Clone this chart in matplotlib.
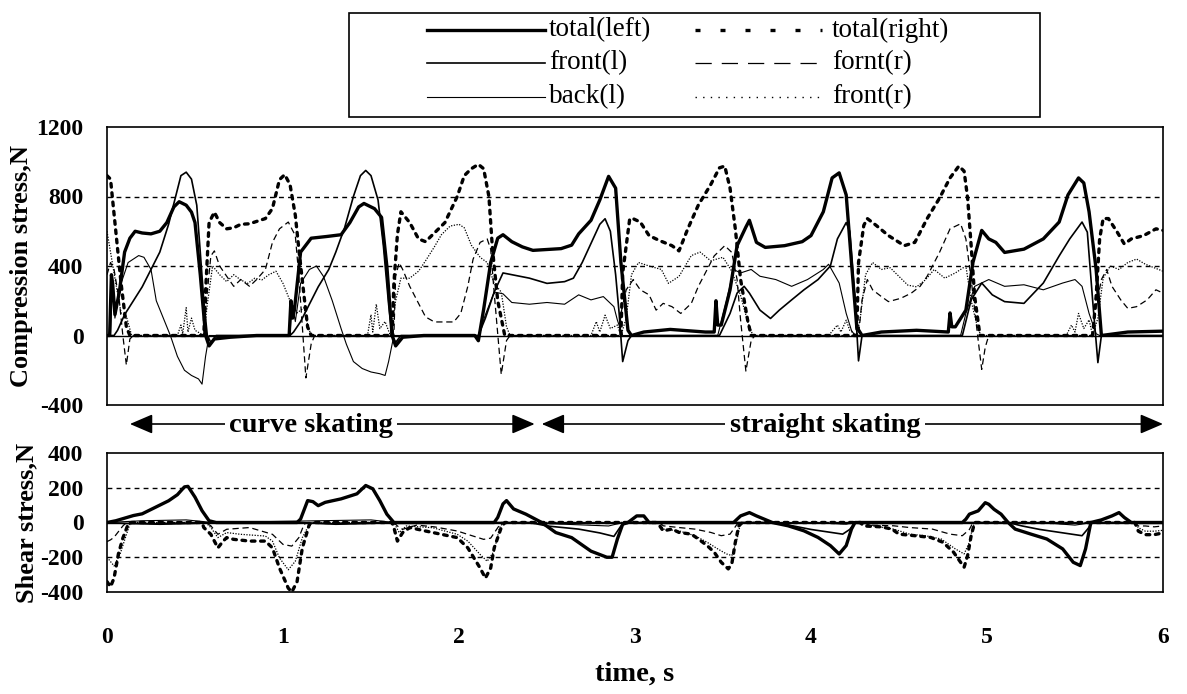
import numpy as np
import matplotlib
matplotlib.use("Agg")
import matplotlib.pyplot as plt
from matplotlib.lines import Line2D
from matplotlib.patches import Rectangle

plt.rcParams['font.family'] = ['Liberation Serif', 'DejaVu Serif']
plt.rcParams['axes.unicode_minus'] = False

# ================================================================
# DATA: (time s, force N) pairs
# ================================================================
# --- compression stress (upper panel) ---
comp_total_l = [(0, 0), (0.015, 0), (0.025, 350), (0.032, 300), (0.045, 120), (0.07, 250), (0.1, 480),
                (0.13, 560), (0.16, 600), (0.2, 590), (0.25, 585), (0.3, 600), (0.34, 650), (0.38, 740),
                (0.41, 770), (0.45, 750), (0.48, 710), (0.5, 650), (0.53, 350), (0.56, 0), (0.58, -60),
                (0.61, -20), (0.7, -10), (0.85, 0), (1.035, 0), (1.045, 200), (1.055, 100), (1.065, 150),
                (1.1, 480), (1.16, 560), (1.25, 570), (1.33, 580), (1.38, 650), (1.43, 740), (1.46, 760),
                (1.52, 730), (1.56, 680), (1.59, 400), (1.62, 0), (1.64, -60), (1.68, -10), (1.8, 0),
                (2.09, 0), (2.11, -30), (2.14, 150), (2.18, 420), (2.22, 560), (2.25, 580), (2.3, 540),
                (2.36, 510), (2.42, 490), (2.5, 495), (2.58, 500), (2.64, 520), (2.68, 585), (2.75, 663),
                (2.8, 780), (2.85, 916), (2.89, 848), (2.92, 420), (2.96, 30), (2.98, 0), (3.05, 20),
                (3.2, 35), (3.4, 20), (3.45, 20), (3.46, 200), (3.47, 60), (3.49, 60), (3.54, 263),
                (3.58, 517), (3.63, 624), (3.65, 663), (3.69, 536), (3.74, 507), (3.85, 517), (3.95, 540),
                (4.0, 575), (4.07, 712), (4.12, 907), (4.16, 936), (4.2, 809), (4.23, 420), (4.26, 49),
                (4.29, 0), (4.4, 20), (4.6, 30), (4.78, 20), (4.79, 130), (4.8, 50), (4.82, 50),
                (4.88, 146), (4.92, 420), (4.97, 605), (5.01, 556), (5.05, 536), (5.1, 478), (5.21, 497),
                (5.32, 556), (5.41, 653), (5.46, 809), (5.52, 907), (5.55, 878), (5.58, 712), (5.62, 380),
                (5.65, 0), (5.8, 20), (6.0, 25)]

comp_front_l = [(0, 0), (0.04, 0), (0.06, 30), (0.1, 120), (0.15, 200), (0.2, 280), (0.26, 400), (0.3, 480),
                (0.35, 640), (0.39, 800), (0.42, 920), (0.45, 940), (0.48, 900), (0.51, 750), (0.53, 480),
                (0.55, 200), (0.57, 0), (0.59, -40), (0.62, 0), (1.04, 0), (1.06, 20), (1.1, 80), (1.15, 180),
                (1.2, 280), (1.26, 380), (1.3, 480), (1.35, 620), (1.4, 800), (1.44, 920), (1.47, 950),
                (1.5, 920), (1.54, 780), (1.57, 520), (1.6, 180), (1.62, 0), (1.64, -40), (1.67, 0),
                (2.11, 0), (2.15, 100), (2.2, 250), (2.25, 360), (2.3, 350), (2.4, 330), (2.5, 300),
                (2.6, 310), (2.65, 330), (2.7, 420), (2.75, 530), (2.8, 640), (2.83, 672), (2.86, 600),
                (2.89, 350), (2.91, 127), (2.93, -150), (2.96, -30), (2.98, 0), (3.48, 0), (3.54, 127),
                (3.58, 244), (3.62, 283), (3.65, 244), (3.71, 146), (3.77, 98), (3.82, 146), (3.89, 205),
                (3.96, 263), (4.04, 322), (4.11, 400), (4.15, 556), (4.2, 650), (4.22, 600), (4.25, 205),
                (4.27, -146), (4.29, 0), (4.86, 0), (4.91, 205), (4.97, 302), (5.03, 234), (5.1, 195),
                (5.21, 185), (5.32, 302), (5.41, 458), (5.47, 556), (5.54, 653), (5.57, 595), (5.6, 205),
                (5.63, -156), (5.65, 0), (6.0, 0)]

comp_back_l = [(0, 0), (0.02, 0), (0.03, 330), (0.045, 100), (0.08, 300), (0.12, 420), (0.18, 460), (0.21, 450),
               (0.25, 380), (0.28, 200), (0.32, 100), (0.36, 0), (0.4, -120), (0.44, -200), (0.48, -230),
               (0.52, -250), (0.54, -280), (0.56, -120), (0.58, 0), (1.04, 0), (1.05, 200), (1.07, 80),
               (1.1, 300), (1.15, 380), (1.19, 400), (1.23, 340), (1.28, 200), (1.33, 40), (1.36, -50),
               (1.4, -150), (1.45, -190), (1.5, -210), (1.55, -220), (1.58, -230), (1.6, -150), (1.63, 0),
               (2.11, 0), (2.15, 120), (2.2, 250), (2.25, 240), (2.3, 190), (2.4, 180), (2.5, 190), (2.6, 180),
               (2.68, 234), (2.75, 205), (2.82, 224), (2.88, 166), (2.9, 88), (2.93, 0), (3.47, 0), (3.52, 200),
               (3.56, 380), (3.6, 360), (3.66, 380), (3.71, 341), (3.8, 322), (3.89, 283), (3.98, 322),
               (4.07, 380), (4.1, 410), (4.16, 302), (4.2, 127), (4.23, 29), (4.25, 0), (4.85, 0), (4.88, 127),
               (4.93, 283), (5.01, 322), (5.1, 283), (5.21, 292), (5.32, 263), (5.43, 302), (5.5, 322),
               (5.54, 283), (5.58, 127), (5.62, 10), (5.64, 0), (6.0, 0)]

comp_total_r = [(0, 920), (0.02, 900), (0.05, 600), (0.08, 300), (0.11, 50), (0.13, 0), (0.55, 0), (0.56, 250),
                (0.58, 650), (0.61, 710), (0.64, 650), (0.68, 614), (0.72, 620), (0.76, 640), (0.81, 643),
                (0.86, 660), (0.9, 673), (0.94, 731), (0.98, 897), (1.01, 926), (1.04, 868), (1.07, 692),
                (1.09, 497), (1.12, 224), (1.14, 49), (1.16, 0), (1.62, 0), (1.63, 300), (1.65, 580),
                (1.67, 712), (1.72, 650), (1.77, 556), (1.81, 540), (1.86, 590), (1.92, 650), (1.99, 800),
                (2.03, 920), (2.07, 960), (2.11, 985), (2.14, 960), (2.17, 800), (2.19, 500), (2.22, 200),
                (2.26, 0), (2.92, 0), (2.93, 360), (2.97, 672), (2.99, 672), (3.03, 653), (3.08, 575),
                (3.14, 546), (3.21, 517), (3.25, 487), (3.3, 614), (3.36, 751), (3.43, 868), (3.48, 965),
                (3.51, 975), (3.54, 848), (3.57, 614), (3.6, 322), (3.64, 88), (3.66, 0), (4.26, 0),
                (4.27, 420), (4.3, 634), (4.32, 673), (4.37, 634), (4.44, 575), (4.53, 517), (4.59, 536),
                (4.66, 673), (4.73, 790), (4.79, 907), (4.84, 975), (4.87, 946), (4.89, 790), (4.91, 517),
                (4.93, 224), (4.96, 0), (5.6, 0), (5.62, 224), (5.64, 556), (5.66, 673), (5.69, 673),
                (5.74, 595), (5.78, 527), (5.82, 556), (5.89, 575), (5.96, 614), (6.0, 605)]

comp_fornt_r = [(0, 350), (0.02, 420), (0.04, 380), (0.07, 200), (0.09, 0), (0.11, -170), (0.13, -20), (0.15, 0),
                (0.55, 0), (0.56, 146), (0.59, 458), (0.61, 487), (0.64, 400), (0.68, 341), (0.72, 283),
                (0.76, 322), (0.81, 283), (0.85, 322), (0.9, 380), (0.94, 536), (0.98, 614), (1.03, 653),
                (1.07, 575), (1.09, 341), (1.11, 49), (1.13, -244), (1.16, -49), (1.18, 0), (1.63, 0),
                (1.64, 341), (1.66, 419), (1.68, 380), (1.72, 283), (1.77, 185), (1.81, 107), (1.86, 78),
                (1.97, 78), (2.01, 127), (2.05, 283), (2.08, 439), (2.12, 536), (2.16, 556), (2.18, 497),
                (2.2, 244), (2.24, -224), (2.27, -29), (2.29, 0), (2.91, 0), (2.92, 127), (2.95, 263),
                (2.99, 322), (3.03, 263), (3.08, 234), (3.12, 146), (3.16, 185), (3.21, 166), (3.26, 127),
                (3.32, 185), (3.36, 283), (3.41, 380), (3.45, 458), (3.51, 517), (3.55, 478), (3.58, 322),
                (3.6, 88), (3.63, -205), (3.66, -29), (3.68, 0), (4.27, 0), (4.29, 205), (4.32, 322),
                (4.35, 263), (4.4, 224), (4.44, 195), (4.51, 214), (4.57, 244), (4.62, 283), (4.66, 341),
                (4.73, 478), (4.79, 614), (4.85, 643), (4.88, 556), (4.91, 322), (4.95, -29), (4.97, -195),
                (4.99, -68), (5.01, 0), (5.6, 0), (5.62, 166), (5.65, 322), (5.68, 380), (5.71, 283),
                (5.76, 205), (5.8, 156), (5.85, 166), (5.91, 205), (5.96, 263), (6.0, 244)]

comp_front_r = [(0, 600), (0.02, 480), (0.05, 300), (0.08, 130), (0.11, 110), (0.14, 0), (0.4, 0), (0.42, 60),
                (0.43, 10), (0.45, 160), (0.46, 20), (0.48, 100), (0.5, 30), (0.55, 0), (0.57, 180), (0.6, 400),
                (0.64, 350), (0.68, 310), (0.72, 350), (0.76, 320), (0.8, 300), (0.84, 330), (0.88, 320),
                (0.92, 350), (0.96, 370), (1.0, 300), (1.04, 200), (1.08, 130), (1.12, 160), (1.14, 60),
                (1.16, 0), (1.48, 0), (1.5, 120), (1.51, 20), (1.53, 180), (1.55, 40), (1.58, 80), (1.61, 0),
                (1.64, 200), (1.67, 330), (1.72, 330), (1.77, 370), (1.81, 430), (1.86, 510), (1.9, 580),
                (1.95, 630), (2.0, 640), (2.03, 620), (2.07, 520), (2.12, 450), (2.16, 420), (2.2, 300),
                (2.24, 250), (2.27, 50), (2.29, 0), (2.75, 0), (2.78, 80), (2.8, 20), (2.83, 117), (2.86, 40),
                (2.9, 60), (2.92, 0), (2.95, 100), (2.98, 350), (3.02, 420), (3.08, 400), (3.15, 380),
                (3.19, 300), (3.25, 340), (3.32, 460), (3.37, 480), (3.43, 430), (3.5, 450), (3.55, 370),
                (3.6, 230), (3.64, 80), (3.67, 0), (4.1, 0), (4.15, 60), (4.17, 20), (4.2, 88), (4.22, 30),
                (4.26, 0), (4.28, 100), (4.31, 350), (4.35, 420), (4.4, 380), (4.45, 390), (4.5, 340),
                (4.55, 290), (4.6, 280), (4.65, 320), (4.7, 380), (4.76, 330), (4.82, 360), (4.88, 400),
                (4.91, 200), (4.95, 30), (4.97, 0), (5.45, 0), (5.48, 60), (5.5, 20), (5.52, 127), (5.55, 40),
                (5.58, 90), (5.6, 0), (5.63, 100), (5.66, 330), (5.7, 400), (5.75, 380), (5.8, 420),
                (5.85, 440), (5.9, 410), (5.95, 390), (6.0, 370)]

# --- shear stress (lower panel) ---
shear_total_l = [(0, 0), (0.05, 10), (0.1, 25), (0.15, 40), (0.2, 50), (0.25, 75), (0.3, 100), (0.35, 125),
                 (0.4, 160), (0.44, 205), (0.46, 208), (0.5, 146), (0.54, 68), (0.58, 10), (0.62, 0), (1.08, 0),
                 (1.1, 20), (1.14, 126), (1.17, 120), (1.2, 97), (1.24, 116), (1.33, 136), (1.42, 165),
                 (1.47, 213), (1.51, 194), (1.55, 126), (1.59, 48), (1.63, 0), (2.2, 0), (2.22, 29),
                 (2.25, 107), (2.27, 126), (2.31, 78), (2.38, 48), (2.47, 0), (2.55, -58), (2.64, -87),
                 (2.75, -165), (2.84, -200), (2.87, -200), (2.9, -95), (2.93, -10), (2.96, 0), (3.01, 38),
                 (3.05, 38), (3.08, 0), (3.56, 0), (3.6, 38), (3.65, 57), (3.69, 38), (3.78, 0), (3.87, -19),
                 (3.96, -48), (4.04, -86), (4.11, -133), (4.16, -181), (4.2, -133), (4.23, -38), (4.25, 0),
                 (4.86, 0), (4.88, 19), (4.9, 48), (4.95, 67), (4.99, 114), (5.01, 105), (5.04, 76),
                 (5.08, 48), (5.12, 0), (5.16, -38), (5.25, -67), (5.34, -95), (5.43, -152), (5.49, -229),
                 (5.53, -248), (5.56, -152), (5.59, 0), (5.65, 15), (5.71, 38), (5.75, 57), (5.78, 29),
                 (5.82, 0), (6.0, 0)]

shear_front_l = [(0, 0), (0.1, -5), (0.3, -10), (0.5, -5), (0.6, 0), (1.1, 0), (1.3, -10), (1.5, -5), (1.62, 0),
                 (2.4, 0), (2.5, -20), (2.6, -30), (2.68, -38), (2.8, -60), (2.88, -80), (2.92, -20), (2.95, 0),
                 (3.8, 0), (3.9, -20), (4.0, -40), (4.1, -55), (4.18, -67), (4.22, -40), (4.25, 0), (5.12, 0),
                 (5.2, -20), (5.3, -40), (5.4, -55), (5.5, -70), (5.54, -76), (5.57, -40), (5.6, 0), (6.0, 0)]

shear_back_l = [(0, 0), (0.2, 10), (0.45, 15), (0.6, 0), (1.2, 10), (1.5, 15), (1.63, 0), (2.3, 0), (2.6, -10),
                (2.85, -20), (2.93, 0), (4.0, 0), (4.2, -10), (4.25, 0), (5.3, 0), (5.5, -15), (5.6, 0), (6.0, 0)]

shear_total_r = [(0, -340), (0.02, -370), (0.04, -320), (0.065, -180), (0.09, -90), (0.12, -10), (0.14, 0),
                 (0.54, 0), (0.55, -29), (0.59, -68), (0.63, -146), (0.66, -107), (0.68, -87), (0.72, -97),
                 (0.81, -107), (0.9, -107), (0.94, -146), (0.98, -262), (1.03, -378), (1.05, -400),
                 (1.08, -340), (1.11, -146), (1.15, -10), (1.17, 0), (1.62, 0), (1.63, -29), (1.65, -107),
                 (1.68, -58), (1.72, -29), (1.81, -49), (1.9, -68), (1.99, -87), (2.05, -146), (2.12, -262),
                 (2.15, -320), (2.18, -262), (2.2, -146), (2.24, -29), (2.26, 0), (3.12, 0), (3.14, -19),
                 (3.16, -48), (3.21, -38), (3.25, -57), (3.32, -67), (3.36, -95), (3.41, -133), (3.45, -171),
                 (3.49, -229), (3.53, -267), (3.55, -238), (3.57, -114), (3.59, -19), (3.61, 0), (4.28, 0),
                 (4.3, -20), (4.4, -25), (4.46, -38), (4.5, -67), (4.59, -76), (4.68, -86), (4.75, -114),
                 (4.81, -171), (4.85, -229), (4.87, -257), (4.89, -190), (4.91, -76), (4.93, 0), (5.84, 0),
                 (5.86, -50), (5.9, -70), (5.95, -70), (6.0, -60)]

shear_front_r = [(0, -200), (0.04, -250), (0.075, -180), (0.11, -70), (0.13, -10), (0.15, 0), (0.56, 0),
                 (0.59, -29), (0.63, -87), (0.68, -58), (0.76, -68), (0.9, -78), (0.94, -107), (0.98, -204),
                 (1.03, -272), (1.07, -223), (1.11, -87), (1.15, -10), (1.17, 0), (1.63, 0), (1.66, -58),
                 (1.7, -20), (1.85, -30), (1.99, -68), (2.05, -107), (2.12, -184), (2.16, -223), (2.2, -165),
                 (2.23, -30), (2.25, 0), (3.14, 0), (3.16, -38), (3.25, -48), (3.34, -76), (3.41, -114),
                 (3.47, -152), (3.52, -181), (3.55, -190), (3.58, -95), (3.6, 0), (4.3, 0), (4.35, -20),
                 (4.47, -38), (4.56, -67), (4.65, -76), (4.74, -95), (4.82, -152), (4.87, -181), (4.9, -114),
                 (4.92, -20), (4.94, 0), (5.84, 0), (5.86, -30), (5.9, -50), (5.95, -50), (6.0, -45)]

shear_fornt_r = [(0, -110), (0.02, -100), (0.04, -85), (0.09, -20), (0.11, 0), (0.56, 0), (0.59, -19),
                 (0.63, -68), (0.68, -39), (0.81, -29), (0.94, -68), (1.0, -126), (1.05, -136), (1.09, -87),
                 (1.12, -10), (1.14, 0), (1.63, 0), (1.65, -20), (1.68, -39), (1.76, -15), (1.86, -25),
                 (1.99, -49), (2.08, -78), (2.14, -97), (2.18, -90), (2.22, -30), (2.24, 0), (3.14, 0),
                 (3.16, -19), (3.25, -29), (3.34, -38), (3.43, -57), (3.49, -76), (3.54, -67), (3.58, -10),
                 (3.6, 0), (4.3, 0), (4.33, -15), (4.47, -19), (4.56, -29), (4.69, -38), (4.79, -67),
                 (4.86, -76), (4.9, -40), (4.92, 0), (5.84, 0), (5.86, -20), (5.9, -20), (5.95, -25),
                 (6.0, -20)]

labels = ['total(left)', 'front(l)', 'back(l)', 'total(right)', 'fornt(r)', 'front(r)']
comp_series = [comp_total_l, comp_front_l, comp_back_l, comp_total_r, comp_fornt_r, comp_front_r]
shear_series = [shear_total_l, shear_front_l, shear_back_l, shear_total_r, shear_fornt_r, shear_front_r]

comp_ticks = [-400, 0, 400, 800, 1200]
shear_ticks = [-400, -200, 0, 200, 400]
time_ticks = [0, 1, 2, 3, 4, 5, 6]

# line styles in the plot (same order as labels)
styles = [dict(lw=2.4, ls='-'),
          dict(lw=1.2, ls='-'),
          dict(lw=0.8, ls='-'),
          dict(lw=2.4, ls=(0, (1.1, 1.7)), dash_capstyle='round'),
          dict(lw=0.9, ls=(0, (5, 3))),
          dict(lw=0.9, ls=(0, (1, 1.2)))]
# the legend samples are drawn sparser, as in the original
legend_styles = [dict(lw=2.4, ls='-'),
                 dict(lw=1.2, ls='-'),
                 dict(lw=0.8, ls='-'),
                 dict(lw=2.4, ls=(0, (1.5, 6))),
                 dict(lw=0.9, ls=(0, (13, 8))),
                 dict(lw=1.0, ls=(0, (1, 4.5)))]

# ================================================================
# FIGURE
# ================================================================
W, H = 1187, 694
fig = plt.figure(figsize=(W / 100, H / 100), dpi=100)


def fx(px):
    return px / W


def fy(py):
    return 1 - py / H


ax1 = fig.add_axes([fx(107), fy(405), fx(1163) - fx(107), fy(127) - fy(405)])
ax2 = fig.add_axes([fx(107), fy(592), fx(1163) - fx(107), fy(453) - fy(592)])

grid_ls = (0, (3.5, 3))
for ax, series, ticks, grids in [(ax1, comp_series, comp_ticks, [400, 800]),
                                 (ax2, shear_series, shear_ticks, [200, -200])]:
    for g in grids:
        ax.axhline(g, color='k', lw=1.0, ls=grid_ls, zorder=1)
    ax.axhline(0, color='k', lw=1.0, zorder=1)
    for data, st in zip(series, styles):
        arr = np.array(data, dtype=float)
        ax.plot(arr[:, 0], arr[:, 1], color='k', zorder=2.2, **st)
    ax.set_xlim(0, 6)
    ax.set_ylim(ticks[0], ticks[-1])
    ax.set_yticks(ticks)
    ax.set_xticks(time_ticks)
    ax.tick_params(length=0, labelsize=17, pad=17)
    for lab in ax.get_yticklabels() + ax.get_xticklabels():
        lab.set_fontweight('bold')
    for sp in ax.spines.values():
        sp.set_linewidth(1.2)
        sp.set_zorder(3)

ax1.tick_params(axis='x', labelbottom=False)
ax2.tick_params(axis='x', pad=25)

ax1.set_ylabel('Compression stress,N', fontsize=19, fontweight='bold')
ax1.yaxis.set_label_coords((33 - 107) / 1056, 0.5)
ax2.set_ylabel('Shear stress,N', fontsize=19, fontweight='bold')
ax2.yaxis.set_label_coords((38 - 107) / 1056, 0.5)
ax2.set_xlabel('time, s', fontsize=20.5, fontweight='bold', labelpad=10)

# curve / straight skating arrows between the panels
y_arr = (405 - 424) / 278
y_txt = (405 - 426) / 278
head = '<|-|>,head_length=0.7,head_width=0.3'
for x0, x1, xt, txt in [(0.13, 2.43, 1.16, 'curve skating'),
                        (2.47, 6.0, 4.08, 'straight skating')]:
    ax1.annotate('', xy=(x0, y_arr), xytext=(x1, y_arr),
                 xycoords=('data', 'axes fraction'), textcoords=('data', 'axes fraction'),
                 arrowprops=dict(arrowstyle=head, color='k', lw=1.2, mutation_scale=20,
                                 shrinkA=0, shrinkB=0),
                 annotation_clip=False, zorder=1.5)
    ax1.text(xt, y_txt, txt, transform=ax1.get_xaxis_transform(), ha='center', va='center',
             fontsize=20.5, fontweight='bold', zorder=2,
             bbox=dict(boxstyle='square,pad=0.15', fc='white', ec='none'))

# legend box drawn like the original (two columns)
fig.add_artist(Rectangle((fx(349), fy(117)), fx(1040) - fx(349), fy(13) - fy(117),
                         transform=fig.transFigure, fill=False, ec='k', lw=1.2))
rows = [30, 63, 97]
for i, (lab, st) in enumerate(zip(labels, legend_styles)):
    col, row = divmod(i, 3)
    hx0, hx1, tx = (427, 545, 549) if col == 0 else (695, 822, 832)
    yy = fy(rows[row])
    fig.add_artist(Line2D([fx(hx0), fx(hx1)], [yy, yy], transform=fig.transFigure, color='k', **st))
    fig.text(fx(tx), yy, lab, fontsize=19.5, ha='left', va='center')

fig.savefig('out.png', dpi=100)
